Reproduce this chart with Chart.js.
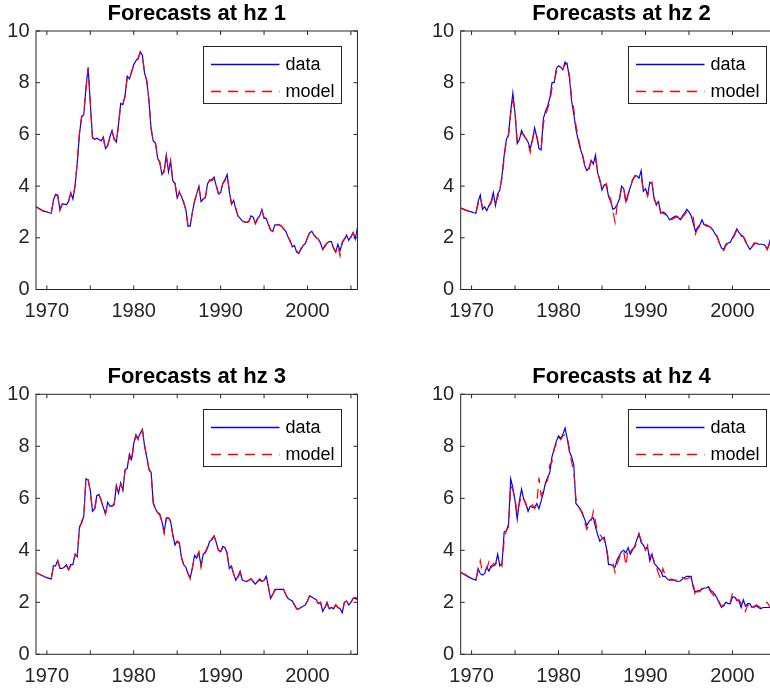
<!DOCTYPE html>
<html>
<head>
<meta charset="utf-8">
<title>Forecasts by horizon</title>
<script src="https://cdn.jsdelivr.net/npm/chart.js@4/dist/chart.umd.min.js"></script>
<style>
  html, body { margin: 0; padding: 0; background: #ffffff; }
  body { width: 770px; height: 692px; overflow: hidden; position: relative; }
  canvas { position: absolute; }
</style>
</head>
<body>
<canvas id="hz1"></canvas>
<canvas id="hz2"></canvas>
<canvas id="hz3"></canvas>
<canvas id="hz4"></canvas>
<script>
// Quarterly observations, first one at 1968.75, one row per calendar year.
const startYear = 1968.75;
const quarterStep = 0.25;

const xTickYears = [1970, 1975, 1980, 1985, 1990, 1995, 2000, 2005];
const xLabelYears = [1970, 1980, 1990, 2000];
const yTicks = [0, 2, 4, 6, 8, 10];
const seriesNames = ['data', 'model'];
const panelTitles = ['Forecasts at hz 1', 'Forecasts at hz 2', 'Forecasts at hz 3', 'Forecasts at hz 4'];

const hz1Data = [
  3.20,
  3.15, 3.10, 3.05, 3.02,
  3.00, 2.97, 2.95, 3.45,
  3.68, 3.65, 3.10, 3.30,
  3.30, 3.28, 3.40, 3.75,
  3.50, 4.00, 4.90, 6.00,
  6.70, 6.75, 7.80, 8.60,
  7.20, 5.90, 5.80, 5.85,
  5.80, 5.75, 5.90, 5.45,
  5.55, 5.90, 6.15, 5.80,
  5.70, 6.40, 7.20, 7.15,
  7.50, 8.25, 8.15, 8.40,
  8.70, 8.85, 8.95, 9.20,
  9.05, 8.35, 8.10, 7.30,
  6.20, 5.75, 5.65, 5.10,
  4.90, 4.45, 4.60, 5.20,
  4.55, 4.95, 4.20, 4.10,
  3.55, 3.75, 3.60, 3.35,
  3.10, 2.45, 2.45, 3.00,
  3.40, 3.70, 4.00, 3.40,
  3.50, 3.55, 4.10, 4.20,
  4.25, 4.35, 4.00, 3.70,
  3.75, 4.10, 4.25, 4.45,
  3.80, 3.30, 3.45, 3.10,
  2.85, 2.75, 2.65, 2.62,
  2.60, 2.62, 2.85, 2.80,
  2.55, 2.75, 2.85, 3.10,
  2.75, 2.75, 2.50, 2.30,
  2.25, 2.50, 2.50, 2.50,
  2.45, 2.35, 2.25, 2.05,
  1.90, 1.65, 1.70, 1.45,
  1.40, 1.55, 1.70, 1.78,
  2.00, 2.20, 2.25, 2.10,
  2.00, 1.95, 1.80, 1.55,
  1.70, 1.80, 1.85, 1.85,
  1.60, 1.45, 1.75, 1.50,
  1.80, 1.95, 2.10, 1.90,
  2.05, 2.20, 1.95, 2.40
];
const hz1Model = [
  3.20,
  3.15, 3.10, 3.05, 3.02,
  3.00, 2.97, 2.95, 3.40,
  3.65, 3.62, 3.05, 3.28,
  3.32, 3.30, 3.42, 3.70,
  3.55, 4.05, 4.95, 6.05,
  6.65, 6.80, 7.75, 8.55,
  7.30, 5.85, 5.82, 5.85,
  5.78, 5.78, 5.85, 5.40,
  5.60, 5.85, 6.10, 5.85,
  5.70, 6.35, 7.15, 7.20,
  7.45, 8.20, 8.10, 8.45,
  8.65, 8.85, 8.90, 9.15,
  9.00, 8.40, 8.05, 7.35,
  6.25, 5.70, 5.70, 5.05,
  4.95, 4.45, 4.55, 5.15,
  4.60, 5.00, 4.15, 4.15,
  3.50, 3.80, 3.55, 3.40,
  3.05, 2.45, 2.50, 2.95,
  3.45, 3.70, 3.95, 3.45,
  3.45, 3.60, 4.05, 4.25,
  4.20, 4.30, 4.05, 3.70,
  3.70, 4.10, 4.20, 4.40,
  3.85, 3.30, 3.40, 3.15,
  2.85, 2.75, 2.68, 2.60,
  2.60, 2.65, 2.80, 2.85,
  2.55, 2.70, 2.90, 3.05,
  2.80, 2.70, 2.55, 2.30,
  2.25, 2.45, 2.50, 2.52,
  2.45, 2.35, 2.20, 2.05,
  1.85, 1.70, 1.65, 1.50,
  1.40, 1.60, 1.70, 1.75,
  2.00, 2.20, 2.25, 2.15,
  2.00, 1.95, 1.80, 1.55,
  1.65, 1.80, 1.85, 1.85,
  1.60, 1.45, 1.70, 1.30,
  1.85, 1.95, 2.05, 1.95,
  2.00, 2.20, 2.00, 2.25
];

const hz2Data = [
  3.15,
  3.12, 3.08, 3.05, 3.02,
  3.00, 2.97, 2.95, 3.40,
  3.65, 3.10, 3.20, 3.05,
  3.25, 3.40, 3.75, 3.25,
  3.70, 3.85, 4.40, 5.20,
  5.80, 6.00, 6.90, 7.60,
  6.80, 5.65, 5.80, 6.15,
  5.95, 5.85, 5.70, 5.45,
  5.80, 6.25, 5.90, 5.45,
  5.40, 6.60, 6.90, 7.10,
  7.40, 8.00, 8.00, 8.55,
  8.65, 8.60, 8.50, 8.80,
  8.70, 8.20, 7.30, 6.80,
  6.20, 5.80, 5.45, 5.20,
  4.80, 4.60, 4.70, 5.00,
  4.85, 5.20, 4.50, 4.25,
  3.85, 4.05, 4.05, 3.60,
  3.40, 3.10, 3.15, 3.30,
  3.50, 4.00, 3.90, 3.40,
  3.70, 3.95, 4.20, 4.40,
  4.40, 4.30, 4.60, 3.80,
  3.90, 3.65, 4.15, 4.10,
  3.50, 3.30, 3.40, 2.95,
  3.00, 2.95, 2.85, 2.70,
  2.75, 2.80, 2.85, 2.80,
  2.70, 2.85, 2.95, 3.10,
  3.00, 2.85, 2.55, 2.25,
  2.40, 2.50, 2.70, 2.50,
  2.50, 2.45, 2.40, 2.30,
  2.15, 2.05, 1.80, 1.60,
  1.55, 1.75, 1.80, 1.82,
  2.00, 2.15, 2.35, 2.20,
  2.10, 2.05, 1.85, 1.70,
  1.55, 1.65, 1.80, 1.78,
  1.75, 1.75, 1.75, 1.70,
  1.55, 1.80, 2.10, 1.95,
  2.05, 2.15, 2.00, 2.30
];
const hz2Model = [
  3.15,
  3.12, 3.08, 3.05, 3.02,
  3.00, 2.97, 2.95, 3.30,
  3.55, 3.20, 3.10, 3.10,
  3.20, 3.35, 3.60, 3.35,
  3.55, 3.90, 4.30, 5.10,
  5.75, 5.95, 6.80, 7.30,
  6.90, 5.75, 5.75, 6.05,
  6.00, 5.80, 5.65, 5.30,
  5.75, 6.15, 5.95, 5.50,
  5.45, 6.40, 6.75, 7.00,
  7.25, 7.80, 8.05, 8.40,
  8.60, 8.55, 8.55, 8.70,
  8.75, 8.30, 7.45, 7.00,
  6.35, 5.95, 5.50, 5.25,
  4.85, 4.65, 4.65, 4.95,
  4.90, 5.10, 4.55, 4.20,
  3.90, 4.00, 4.10, 3.65,
  3.50, 3.05, 2.60, 3.25,
  3.45, 3.95, 3.95, 3.30,
  3.65, 3.90, 4.25, 4.35,
  4.40, 4.35, 4.35, 3.85,
  3.85, 3.60, 4.05, 4.15,
  3.55, 3.25, 3.35, 3.00,
  2.95, 2.90, 2.80, 2.70,
  2.70, 2.75, 2.80, 2.80,
  2.60, 2.80, 2.90, 3.00,
  2.95, 2.85, 2.80, 2.15,
  2.35, 2.45, 2.60, 2.55,
  2.45, 2.45, 2.40, 2.30,
  2.20, 2.00, 1.80, 1.55,
  1.50, 1.70, 1.80, 1.85,
  1.95, 2.10, 2.30, 2.25,
  2.05, 2.05, 1.90, 1.70,
  1.60, 1.65, 1.75, 1.80,
  1.75, 1.75, 1.70, 1.70,
  1.55, 1.75, 2.00, 2.00,
  2.00, 2.10, 2.05, 2.20
];

const hz3Data = [
  3.15,
  3.10, 3.06, 3.02, 2.98,
  2.95, 2.92, 2.90, 3.40,
  3.40, 3.60, 3.30, 3.30,
  3.35, 3.45, 3.25, 3.45,
  3.45, 3.85, 3.75, 4.90,
  5.05, 5.30, 6.75, 6.70,
  6.30, 5.50, 5.60, 6.10,
  6.15, 5.90, 5.65, 5.40,
  5.85, 5.70, 5.70, 5.75,
  6.50, 6.20, 6.60, 6.30,
  7.10, 7.15, 7.70, 7.50,
  8.10, 8.45, 8.30, 8.50,
  8.65, 8.00, 7.60, 7.10,
  7.00, 5.80, 5.60, 5.45,
  5.40, 5.10, 4.70, 5.25,
  5.25, 5.10, 4.60, 4.20,
  4.35, 4.30, 3.70, 3.45,
  3.35, 3.10, 2.95, 3.30,
  3.80, 3.70, 3.90, 3.40,
  3.85, 3.90, 4.10, 4.35,
  4.40, 4.55, 4.30, 4.00,
  3.95, 4.15, 4.10, 3.90,
  3.30, 3.40, 3.10, 2.85,
  3.00, 3.20, 2.85, 2.82,
  2.80, 2.85, 2.90, 2.80,
  2.70, 2.80, 2.90, 2.80,
  2.85, 3.00, 2.60, 2.15,
  2.30, 2.50, 2.50, 2.50,
  2.50, 2.50, 2.30, 2.15,
  2.10, 2.05, 1.90, 1.75,
  1.75, 1.80, 1.85, 1.90,
  2.05, 2.25, 2.20, 2.15,
  2.10, 1.95, 2.00, 1.65,
  1.80, 2.00, 1.75, 1.80,
  1.75, 1.90, 1.80, 1.75,
  1.60, 2.00, 2.05, 1.90,
  2.00, 2.15, 2.15, 2.10
];
const hz3Model = [
  3.15,
  3.10, 3.06, 3.02, 2.98,
  2.95, 2.92, 2.90, 3.35,
  3.45, 3.60, 3.35, 3.28,
  3.35, 3.40, 3.25, 3.40,
  3.50, 3.80, 3.80, 4.85,
  5.10, 5.35, 6.70, 6.75,
  6.25, 5.55, 5.55, 6.05,
  6.15, 5.95, 5.60, 5.40,
  5.80, 5.75, 5.70, 5.80,
  6.45, 6.25, 6.55, 6.35,
  7.05, 7.20, 7.60, 7.40,
  8.05, 8.40, 8.25, 8.45,
  8.60, 8.05, 7.55, 7.15,
  6.95, 5.85, 5.60, 5.45,
  5.35, 5.10, 4.65, 5.20,
  5.25, 5.15, 4.55, 4.25,
  4.35, 4.25, 3.75, 3.45,
  3.30, 3.10, 2.90, 3.35,
  3.75, 3.75, 3.95, 3.35,
  3.85, 3.95, 4.15, 4.35,
  4.45, 4.55, 4.30, 4.00,
  3.95, 4.10, 4.10, 3.85,
  3.35, 3.35, 3.10, 2.85,
  2.95, 3.15, 2.85, 2.82,
  2.80, 2.85, 2.90, 2.80,
  2.70, 2.80, 2.85, 2.80,
  2.85, 2.95, 2.60, 2.15,
  2.30, 2.45, 2.50, 2.50,
  2.50, 2.50, 2.30, 2.15,
  2.10, 2.05, 1.90, 1.75,
  1.75, 1.80, 1.85, 1.90,
  2.05, 2.25, 2.20, 2.15,
  2.10, 1.95, 2.00, 1.70,
  1.80, 1.95, 1.75, 1.80,
  1.75, 1.90, 1.80, 1.75,
  1.65, 2.00, 2.05, 1.90,
  2.00, 2.15, 2.20, 2.15
];

const hz4Data = [
  3.15,
  3.10, 3.05, 3.00, 2.95,
  2.92, 2.88, 2.85, 3.30,
  3.10, 3.05, 3.10, 3.35,
  3.20, 3.40, 3.40, 3.45,
  3.85, 3.40, 3.50, 4.70,
  4.75, 5.00, 6.75, 6.40,
  5.90, 5.20, 5.90, 6.35,
  5.95, 5.80, 5.50, 5.70,
  5.65, 5.65, 5.80, 5.60,
  5.90, 6.20, 6.60, 6.80,
  7.00, 7.60, 7.90, 8.20,
  8.40, 8.30, 8.45, 8.70,
  8.30, 7.80, 7.60, 7.30,
  5.80, 5.70, 5.60, 5.40,
  5.20, 4.95, 5.10, 5.20,
  5.25, 4.90, 4.60, 4.35,
  4.45, 4.50, 4.10, 3.45,
  3.45, 3.40, 3.35, 3.65,
  3.80, 3.95, 4.00, 3.90,
  4.10, 3.85, 4.00, 4.15,
  4.40, 4.65, 4.30, 4.20,
  4.05, 4.10, 3.60, 3.85,
  3.50, 3.40, 3.30, 3.20,
  3.00, 3.00, 2.90, 2.85,
  2.85, 2.85, 2.82, 2.80,
  2.82, 2.90, 2.95, 3.00,
  3.00, 3.00, 2.55, 2.40,
  2.45, 2.45, 2.50, 2.55,
  2.55, 2.60, 2.45, 2.40,
  2.30, 2.15, 1.95, 1.80,
  1.90, 2.00, 1.95, 1.95,
  2.20, 2.20, 2.10, 2.05,
  1.80, 2.10, 1.85, 1.95,
  1.95, 1.80, 1.85, 1.85,
  1.80, 1.75, 1.80, 1.80,
  1.80, 1.80, 1.85, 1.90,
  2.00, 2.10, 2.05, 2.15
];
const hz4Model = [
  3.15,
  3.12, 3.08, 3.02, 2.98,
  2.92, 2.90, 2.88, 3.20,
  3.60, 3.15, 3.20, 3.30,
  3.55, 3.30, 3.50, 3.45,
  3.60, 3.55, 3.40, 4.40,
  4.75, 4.90, 6.50, 6.30,
  6.00, 5.40, 5.80, 6.10,
  6.00, 5.75, 5.55, 5.60,
  5.75, 5.60, 5.75, 6.80,
  6.10, 6.30, 6.55, 6.70,
  7.30, 7.40, 7.90, 8.10,
  8.35, 8.25, 8.40, 8.45,
  8.40, 7.90, 7.40, 7.05,
  6.00, 5.70, 5.55, 5.45,
  5.10, 4.80, 5.00, 5.10,
  5.50, 5.10, 4.70, 4.60,
  4.50, 4.40, 4.20, 3.60,
  3.60, 3.50, 3.15, 3.50,
  3.70, 3.95, 3.95, 3.40,
  4.05, 3.95, 4.05, 4.10,
  4.30, 4.60, 4.40, 4.25,
  4.00, 4.20, 3.80, 3.75,
  3.60, 3.35, 3.10, 2.90,
  3.30, 3.05, 2.95, 2.85,
  2.90, 2.85, 2.85, 2.85,
  3.00, 2.95, 2.90, 2.90,
  2.95, 2.90, 2.70, 2.20,
  2.45, 2.40, 2.55, 2.55,
  2.60, 2.55, 2.40, 2.30,
  2.20, 2.20, 2.00, 1.85,
  1.85, 1.95, 2.05, 2.00,
  2.35, 2.25, 2.05, 2.10,
  1.95, 1.90, 1.65, 1.90,
  1.80, 1.90, 1.80, 1.90,
  1.85, 1.80, 1.85, 1.95,
  2.00, 1.85, 1.80, 1.95,
  2.00, 2.15, 2.05, 2.20
];

const panelData = [hz1Data, hz2Data, hz3Data, hz4Data];
const panelModel = [hz1Model, hz2Model, hz3Model, hz4Model];

// Line styles of the two series.
const DATA_COLOR = '#0000ff';
const MODEL_COLOR = '#ff0000';
const MODEL_DASH = [10, 7];
const LINE_WIDTH = 1.2;

// Canvas placement and fixed axis sizes so every plot box lands on the same grid.
const panelBoxes = [
  { left: 0,   top: 0,   width: 361, height: 330, axisW: 36,   axisH: 40.5, padRight: 2.7, titleH: 31 },
  { left: 425, top: 0,   width: 361, height: 330, axisW: 35.7, axisH: 40.5, padRight: 3.5, titleH: 31 },
  { left: 0,   top: 363, width: 361, height: 332, axisW: 36,   axisH: 40.7, padRight: 2.7, titleH: 31.3 },
  { left: 425, top: 363, width: 361, height: 332, axisW: 35.7, axisH: 40.7, padRight: 3.5, titleH: 31.3 }
];

const FONT = "'Liberation Sans', Arial, Helvetica, sans-serif";
const AXIS_COLOR = '#262626';
const TITLE_SIZE = 22;
const TICK_SIZE = 20;
const LEGEND_SIZE = 18;

function toPoints(values) {
  return values.map((v, i) => ({ x: startYear + i * quarterStep, y: v }));
}

// Closed box with inward tick marks on all four sides.
const frameAndTicks = {
  id: 'frameAndTicks',
  afterDatasetsDraw(chart) {
    const { ctx, chartArea: a, scales } = chart;
    const len = 4;
    ctx.save();
    ctx.strokeStyle = AXIS_COLOR;
    ctx.lineWidth = 1;
    ctx.setLineDash([]);
    ctx.beginPath();
    xTickYears.forEach(yr => {
      const px = scales.x.getPixelForValue(yr);
      ctx.moveTo(px, a.bottom); ctx.lineTo(px, a.bottom - len);
      ctx.moveTo(px, a.top); ctx.lineTo(px, a.top + len);
    });
    yTicks.forEach(v => {
      const py = scales.y.getPixelForValue(v);
      ctx.moveTo(a.left, py); ctx.lineTo(a.left + len, py);
      ctx.moveTo(a.right, py); ctx.lineTo(a.right - len, py);
    });
    ctx.stroke();
    ctx.strokeRect(a.left, a.top, a.right - a.left, a.bottom - a.top);
    ctx.restore();
  }
};

// Boxed legend in the upper right corner of the plot area.
const boxedLegend = {
  id: 'boxedLegend',
  afterDraw(chart) {
    const { ctx, chartArea: a } = chart;
    const w = 138, h = 57;
    const x0 = Math.round(a.right - 16.6 - w) + 0.5;
    const y0 = Math.round(a.top + 14.7) + 0.5;
    ctx.save();
    ctx.setLineDash([]);
    ctx.fillStyle = '#ffffff';
    ctx.fillRect(x0, y0, w, h);
    ctx.strokeStyle = AXIS_COLOR;
    ctx.lineWidth = 1;
    ctx.strokeRect(x0, y0, w, h);
    const entries = [
      { label: seriesNames[0], color: DATA_COLOR, dash: [] },
      { label: seriesNames[1], color: MODEL_COLOR, dash: MODEL_DASH }
    ];
    const rows = [y0 + 17.5, y0 + 44.5];
    entries.forEach((e, i) => {
      const ry = Math.round(rows[i]) + 0.5;
      ctx.save();
      ctx.beginPath();
      ctx.strokeStyle = e.color;
      ctx.lineWidth = 1.3;
      ctx.setLineDash(e.dash);
      ctx.moveTo(x0 + 7.5, ry);
      ctx.lineTo(x0 + 76, ry);
      ctx.stroke();
      ctx.restore();
      ctx.fillStyle = '#000000';
      ctx.font = LEGEND_SIZE + 'px ' + FONT;
      ctx.textBaseline = 'middle';
      ctx.textAlign = 'left';
      ctx.fillText(e.label, x0 + 82, ry + 0.5);
    });
    ctx.restore();
  }
};

function makePanel(index) {
  const box = panelBoxes[index];
  const canvas = document.getElementById('hz' + (index + 1));
  canvas.style.left = box.left + 'px';
  canvas.style.top = box.top + 'px';
  canvas.style.width = box.width + 'px';
  canvas.style.height = box.height + 'px';
  canvas.width = box.width;
  canvas.height = box.height;

  const titleLine = TITLE_SIZE * 1.2;
  const titleTop = 1.2;

  return new Chart(canvas, {
    type: 'line',
    data: {
      datasets: [
        {
          label: seriesNames[1],
          data: toPoints(panelModel[index]),
          borderColor: MODEL_COLOR,
          borderWidth: LINE_WIDTH,
          borderDash: MODEL_DASH,
          pointRadius: 0,
          tension: 0,
          order: 0
        },
        {
          label: seriesNames[0],
          data: toPoints(panelData[index]),
          borderColor: DATA_COLOR,
          borderWidth: LINE_WIDTH,
          pointRadius: 0,
          tension: 0,
          order: 1
        }
      ]
    },
    options: {
      responsive: false,
      animation: false,
      devicePixelRatio: 1,
      layout: { padding: { left: 0, top: 0, right: box.padRight, bottom: 0 } },
      plugins: {
        legend: { display: false },
        tooltip: { enabled: false },
        title: {
          display: true,
          text: panelTitles[index],
          fullSize: false,
          color: '#000000',
          font: { family: FONT, size: TITLE_SIZE, weight: 'bold', lineHeight: 1.2 },
          padding: { top: titleTop, bottom: box.titleH - titleLine - titleTop }
        }
      },
      scales: {
        x: {
          type: 'linear',
          min: startYear,
          max: startYear + (hz1Data.length - 1) * quarterStep,
          grid: { display: false, drawTicks: false },
          border: { display: false },
          afterBuildTicks(scale) { scale.ticks = xTickYears.map(v => ({ value: v })); },
          afterFit(scale) { scale.height = box.axisH; },
          ticks: {
            autoSkip: false,
            maxRotation: 0,
            padding: 10,
            color: AXIS_COLOR,
            font: { family: FONT, size: TICK_SIZE },
            callback: (v) => xLabelYears.includes(v) ? String(v) : ''
          }
        },
        y: {
          min: 0,
          max: 10,
          grid: { display: false, drawTicks: false },
          border: { display: false },
          afterBuildTicks(scale) { scale.ticks = yTicks.map(v => ({ value: v })); },
          afterFit(scale) { scale.width = box.axisW; },
          ticks: {
            padding: 6.5,
            color: AXIS_COLOR,
            font: { family: FONT, size: TICK_SIZE },
            callback: (v) => String(v)
          }
        }
      }
    },
    plugins: [frameAndTicks, boxedLegend]
  });
}

Chart.defaults.font.family = FONT;
[0, 1, 2, 3].forEach(makePanel);
</script>
</body>
</html>
